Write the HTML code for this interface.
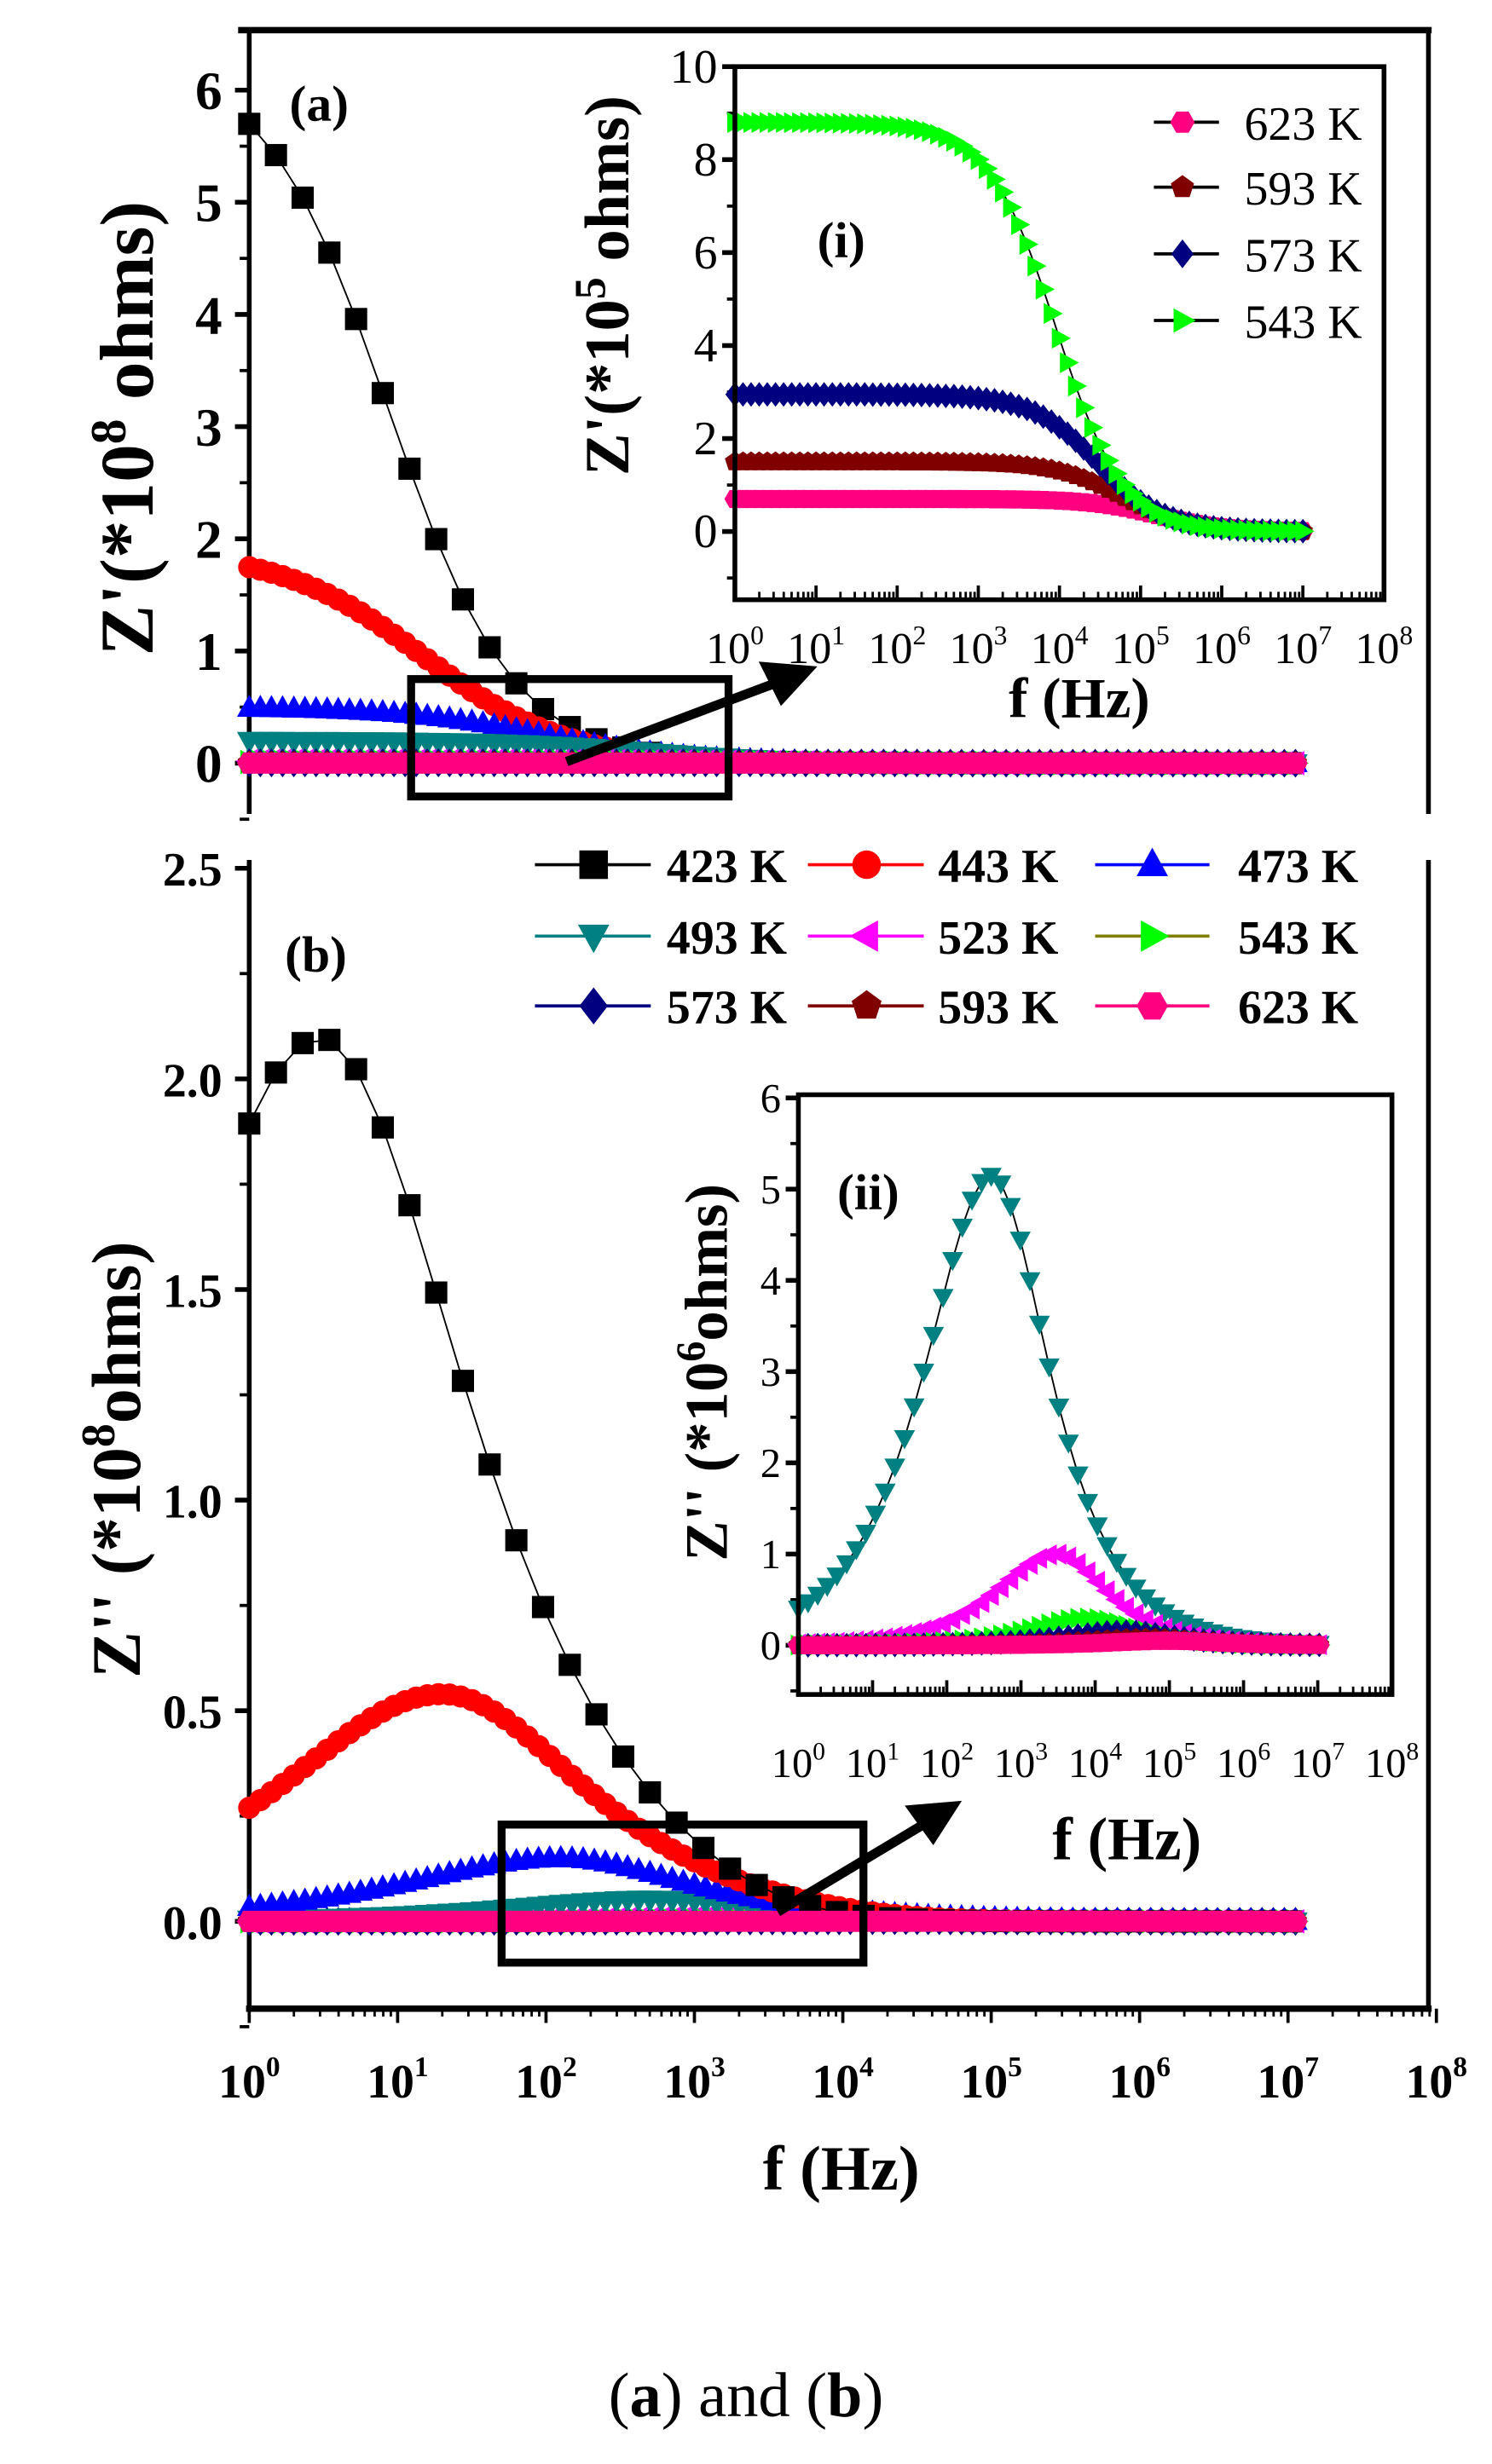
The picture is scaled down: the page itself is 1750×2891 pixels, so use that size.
<!DOCTYPE html>
<html><head><meta charset="utf-8">
<style>
html,body{margin:0;padding:0;background:#fff;}
svg{display:block;}
text{font-family:"Liberation Serif",serif;}
</style></head>
<body>
<svg id="s" width="1750" height="2891" viewBox="0 0 940 1553" xmlns="http://www.w3.org/2000/svg">
<rect width="940" height="1553" fill="#fff"/>
<g id="g"></g>
<text x="470" y="1523" font-size="40" text-anchor="middle">(<tspan font-weight="bold">a</tspan>) and (<tspan font-weight="bold">b</tspan>)</text>
</svg>
<script>
var out=[];
function L(x1,y1,x2,y2,w,c){out.push('<line x1="'+x1+'" y1="'+y1+'" x2="'+x2+'" y2="'+y2+'" stroke="'+(c||'#000')+'" stroke-width="'+(w||3)+'"/>');}
function T(x,y,s,fs,anchor,extra){out.push('<text x="'+x+'" y="'+y+'" font-size="'+fs+'" text-anchor="'+(anchor||'middle')+'" '+(extra||'')+'>'+s+'</text>');}
function marker(shape,x,y,r,c){
  var p;
  switch(shape){
    case 'sq': return '<rect x="'+(x-r)+'" y="'+(y-r)+'" width="'+(2*r)+'" height="'+(2*r)+'" fill="'+c+'"/>';
    case 'ci': return '<circle cx="'+x+'" cy="'+y+'" r="'+r+'" fill="'+c+'"/>';
    case 'tu': p=[[x,y-r*1.2],[x+r*1.1,y+r*0.8],[x-r*1.1,y+r*0.8]];break;
    case 'td': p=[[x,y+r*1.2],[x+r*1.1,y-r*0.8],[x-r*1.1,y-r*0.8]];break;
    case 'tl': p=[[x-r*1.2,y],[x+r*0.8,y-r*1.1],[x+r*0.8,y+r*1.1]];break;
    case 'tr': p=[[x+r*1.2,y],[x-r*0.8,y-r*1.1],[x-r*0.8,y+r*1.1]];break;
    case 'di': p=[[x,y-r*1.3],[x+r,y],[x,y+r*1.3],[x-r,y]];break;
    case 'pe': p=[];for(var i=0;i<5;i++){var a=-Math.PI/2+i*2*Math.PI/5;p.push([x+r*1.1*Math.cos(a),y+r*1.1*Math.sin(a)]);}break;
    case 'hx': p=[];for(var i=0;i<6;i++){var a=i*Math.PI/3;p.push([x+r*1.1*Math.cos(a),y+r*1.1*Math.sin(a)]);}break;
  }
  return '<polygon points="'+p.map(function(q){return q[0].toFixed(1)+','+q[1].toFixed(1)}).join(' ')+'" fill="'+c+'"/>';
}
function series(fn,x0,pd,y0,py,step,lmax,shape,r,c,lc){
  var pts=[],ms=[];
  for(var l=0;l<=lmax+1e-9;l+=step){var x=x0+pd*l,y=y0-py*fn(Math.pow(10,l));pts.push(x.toFixed(1)+','+y.toFixed(1));ms.push(marker(shape,x,y,r,c));}
  out.push('<polyline points="'+pts.join(' ')+'" fill="none" stroke="'+(lc||'#000')+'" stroke-width="1"/>');
  out.push(ms.join(''));
}
function zr(R,fc,a){return function(f){return R/(1+Math.pow(f/fc,a));};}
function zi(P,fp,a1,a2,cut){return function(f){var a=f<fp?a1:a2;var u=Math.pow(f/fp,a);var v=P*2*u/(1+u*u);if(cut)v=v/(1+f/cut);return v;};}
function logx(x0,pd,y,dir,lab,fs,ly){
  for(var d=0;d<=8;d++){var x=x0+pd*d;L(x,y,x,y+dir*9,2);
    if(lab)out.push('<text x="'+x+'" y="'+ly+'" font-size="'+fs+'" text-anchor="middle" font-weight="'+lab+'">10<tspan dy="-'+(fs*0.45)+'" font-size="'+(fs*0.6)+'">'+d+'</tspan></text>');
    if(d<8)for(var k=2;k<=9;k++){var xx=x0+pd*(d+Math.log10(k));L(xx,y,xx,y+dir*5,1.5);}
  }
}
var C={423:'#000',443:'#ff0000',473:'#0000ff',493:'#008080',523:'#ff00ff',543:'#00ff00',573:'#000080',593:'#800000',623:'#ff0080'};
var S={423:'sq',443:'ci',473:'tu',493:'td',523:'tl',543:'tr',573:'di',593:'pe',623:'hx'};

// ===== Panel (a) =====
var ax0=157,apd=93.5,ay0=481,apy=70.7;
L(150,19,902,19,4);L(900,19,900,513,3);L(157,19,157,513,3);
for(var v=0;v<=6;v++){var y=ay0-apy*v;L(148,y,157,y,3);T(140,y+12,v,34,'end','font-weight="bold"');
  if(v<6)L(151,y-apy/2,157,y-apy/2,2);}
L(151,ay0+apy/2,157,ay0+apy/2,2);
T(0,0,'Z\'(*10<tspan dy="-17" font-size="32">8</tspan><tspan dy="17"> ohms)</tspan>',48,'middle','font-weight="bold" transform="translate(96,270) rotate(-90)"');
T(201,76,'(a)',32,'middle','font-weight="bold"');
series(zr(6.3,8.7,1.04),ax0,apd,ay0,apy,0.18,7.05,'sq',7,C[423]);
series(zr(1.9,15,0.9),ax0,apd,ay0,apy,0.075,7.05,'ci',7,C[443]);
series(zr(0.5,100,0.9),ax0,apd,ay0,apy,0.075,7.05,'tu',7,C[473]);
series(zr(0.2,500,0.9),ax0,apd,ay0,apy,0.075,7.05,'td',7,C[493]);
series(zr(0.02,3000,0.9),ax0,apd,ay0,apy,0.075,7.05,'tl',7,C[523]);
series(zr(0.01,9000,0.9),ax0,apd,ay0,apy,0.075,7.05,'tr',7,C[543]);
series(zr(0.003,9000,0.9),ax0,apd,ay0,apy,0.075,7.05,'di',7,C[573]);
series(zr(0.002,9000,0.9),ax0,apd,ay0,apy,0.075,7.05,'pe',7,C[593]);
series(zr(0.001,9000,0.9),ax0,apd,ay0,apy,0.075,7.05,'hx',7,C[623]);
out.push('<rect x="259" y="428" width="200" height="74" fill="none" stroke="#000" stroke-width="5"/>');
L(357,480,490,430,6);out.push('<polygon points="515,420 478,417 492,445" fill="#000"/>');

// inset (i)
var ix0=463,ipd=(872-463)/8,iy0=335,ipy=29.3;
out.push('<rect x="463" y="42" width="409" height="336" fill="#fff"/>');
for(var v=0;v<=10;v+=2){var y=iy0-ipy*v;L(455,y,463,y,3);T(452,y+10,v,30,'end');if(v<10)L(458,y-ipy,463,y-ipy,2);}
L(458,iy0+ipy,463,iy0+ipy,2);
logx(ix0,ipd,378,-1,null);
for(var d=0;d<=8;d++){var x=ix0+ipd*d;out.push('<text x="'+x+'" y="418" font-size="28" text-anchor="middle">10<tspan dy="-12" font-size="17">'+d+'</tspan></text>');}
series(zr(0.7,1.6e5,1.05),ix0,ipd,iy0,ipy,0.1,7.05,'hx',6,C[623]);
series(zr(1.5,6e4,1.05),ix0,ipd,iy0,ipy,0.1,7.05,'pe',6,C[593]);
series(zr(2.95,3e4,1.05),ix0,ipd,iy0,ipy,0.1,7.05,'di',6,C[573]);
series(zr(8.8,9000,1.05),ix0,ipd,iy0,ipy,0.1,7.05,'tr',6,C[543]);
out.push('<rect x="463" y="42" width="409" height="336" fill="none" stroke="#000" stroke-width="3"/>');
T(0,0,'Z\'(*10<tspan dy="-15" font-size="28">5</tspan><tspan dy="15"> ohms)</tspan>',40,'middle','font-weight="bold" transform="translate(396,180) rotate(-90)"');
T(530,162,'(i)',32,'middle','font-weight="bold"');
var lg=[[623,77],[593,118],[573,160],[543,202]];
lg.forEach(function(q){L(727,q[1],768,q[1],2);out.push(marker(S[q[0]],745,q[1],7,C[q[0]]));T(784,q[1]+11,q[0]+' K',30,'start');});
T(680,452,'f (Hz)',36,'middle','font-weight="bold"');

// ===== Panel (b) =====
var bx0=157,bpd=93.5,by0=1211,bpy=265.5;
L(157,542,157,1266,3);L(900,542,900,1266,3);L(155,1266,902,1266,4);
for(var v=0;v<=2.5;v+=0.5){var y=by0-bpy*v;L(148,y,157,y,3);T(140,y+11,v.toFixed(1),30,'end','font-weight="bold"');}
for(var v=-0.25;v<=2.3;v+=0.5){var y=by0-bpy*v;L(151,y,157,y,2);}
logx(bx0,bpd,1266,1,'bold',30,1322);
T(530,1380,'f (Hz)',40,'middle','font-weight="bold"');
T(0,0,'Z\'\' (*10<tspan dy="-16" font-size="30">8</tspan><tspan dy="16">ohms)</tspan>',44,'middle','font-weight="bold" transform="translate(88,920) rotate(-90)"');
T(199,612,'(b)',32,'middle','font-weight="bold"');
series(zi(0.01,3000,0.6,0.7),bx0,bpd,by0,bpy,0.075,7.05,'tl',7,C[523]);
series(zi(0.003,8000,0.6,0.7),bx0,bpd,by0,bpy,0.075,7.05,'tr',7,C[543]);
series(zi(0.0015,25000,0.6,0.7),bx0,bpd,by0,bpy,0.075,7.05,'di',7,C[573]);
series(zi(0.0008,50000,0.6,0.7),bx0,bpd,by0,bpy,0.075,7.05,'pe',7,C[593]);
series(zi(0.052,500,0.5,0.55),bx0,bpd,by0,bpy,0.075,7.05,'td',7,C[493]);
series(zi(0.15,125,0.45,0.55),bx0,bpd,by0,bpy,0.075,7.05,'tu',7,C[473]);
series(zi(0.54,20,0.44,0.5,20000),bx0,bpd,by0,bpy,0.075,7.05,'ci',7,C[443]);
series(zi(2.1,3,0.42,0.48,3000),bx0,bpd,by0,bpy,0.18,7.05,'sq',7,C[423]);
series(zi(0.0005,1e5,0.6,0.7),bx0,bpd,by0,bpy,0.075,7.05,'hx',7,C[623]);
out.push('<rect x="316" y="1150" width="228" height="87" fill="none" stroke="#000" stroke-width="5"/>');
L(490,1205,585,1148,6);out.push('<polygon points="606,1135 570,1138 588,1163" fill="#000"/>');

// legend (b)
var cols=[[337,410,374,420],[509,582,546,591],[690,762,726,780]];
var rows=[545,590,634];
var ks=[[423,443,473],[493,523,543],[573,593,623]];
for(var r=0;r<3;r++)for(var c=0;c<3;c++){var k=ks[r][c],cc=cols[c],y=rows[r];
  L(cc[0],y,cc[1],y,2,(k==543?'#808000':C[k]));out.push(marker(S[k],cc[2],y,9,C[k]));
  T(cc[3],y+11,k+' K',30,'start','font-weight="bold"');}

// inset (ii)
var jx0=503,jpd=(877-503)/8,jy0=1037,jpy=57.5;
out.push('<rect x="503" y="690" width="374" height="378" fill="#fff"/>');
for(var v=0;v<=6;v++){var y=jy0-jpy*v;L(495,y,503,y,3);T(492,y+9,v,26,'end');if(v<6)L(498,y-jpy/2,503,y-jpy/2,2);}
L(498,jy0+jpy/2,503,jy0+jpy/2,2);
logx(jx0,jpd,1068,-1,null);
for(var d=0;d<=8;d++){var x=jx0+jpd*d;out.push('<text x="'+x+'" y="1120" font-size="26" text-anchor="middle">10<tspan dy="-11" font-size="16">'+d+'</tspan></text>');}
series(zi(5.15,400,0.54,0.62),jx0,jpd,jy0,jpy,0.13,7.05,'td',6,C[493]);
series(zi(1.0,3000,0.6,0.7),jx0,jpd,jy0,jpy,0.13,7.05,'tl',6,C[523]);
series(zi(0.3,8000,0.6,0.7),jx0,jpd,jy0,jpy,0.13,7.05,'tr',6,C[543]);
series(zi(0.15,25000,0.6,0.7),jx0,jpd,jy0,jpy,0.13,7.05,'di',6,C[573]);
series(zi(0.08,50000,0.6,0.7),jx0,jpd,jy0,jpy,0.13,7.05,'pe',6,C[593]);
series(zi(0.05,1e5,0.6,0.7),jx0,jpd,jy0,jpy,0.13,7.05,'hx',6,C[623]);
out.push('<rect x="503" y="690" width="374" height="378" fill="none" stroke="#000" stroke-width="3"/>');
T(0,0,'Z\'\' (*10<tspan dy="-14" font-size="26">6</tspan><tspan dy="14">ohms)</tspan>',38,'middle','font-weight="bold" transform="translate(458,865) rotate(-90)"');
T(547,762,'(ii)',32,'middle','font-weight="bold"');
T(710,1172,'f (Hz)',38,'middle','font-weight="bold"');

document.getElementById('g').innerHTML=out.join('');
</script>
</body></html>
